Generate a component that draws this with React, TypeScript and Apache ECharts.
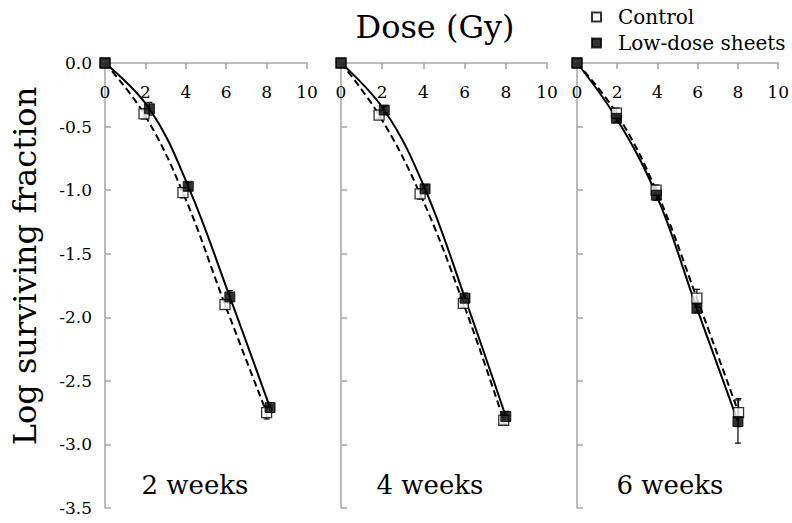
import React, { useEffect, useRef } from 'react';
import * as echarts from 'echarts';

const FONT = 'DejaVu Serif';

const panelLabels = ['2 weeks', '4 weeks', '6 weeks'];
const seriesNames = ['Control', 'Low-dose sheets'];

// 2 weeks
const ctrlDose2w = [0, 1.93, 3.86, 5.94, 8.0];
const ctrlLog2w = [0, -0.4, -1.02, -1.9, -2.75];
const ctrlErr2w = [0, 0.04, 0.04, 0.03, 0.05];
const lowDose2w = [0, 2.2, 4.12, 6.18, 8.17];
const lowLog2w = [0, -0.36, -0.97, -1.84, -2.71];
const lowErr2w = [0, 0.05, 0.03, 0.05, 0.04];

// 4 weeks
const ctrlDose4w = [0, 1.85, 3.84, 5.94, 7.9];
const ctrlLog4w = [0, -0.41, -1.03, -1.89, -2.81];
const ctrlErr4w = [0, 0.03, 0.04, 0.03, 0.03];
const lowDose4w = [0, 2.1, 4.08, 6.02, 8.0];
const lowLog4w = [0, -0.37, -0.99, -1.85, -2.78];
const lowErr4w = [0, 0.03, 0.03, 0.04, 0.04];

// 6 weeks
const ctrlDose6w = [0, 1.96, 3.93, 5.96, 8.03];
const ctrlLog6w = [0, -0.395, -1.0, -1.85, -2.75];
const ctrlErr6w = [0, 0.04, 0.04, 0.07, 0.11];
const lowDose6w = [0, 1.96, 3.95, 5.96, 8.0];
const lowLog6w = [0, -0.435, -1.04, -1.93, -2.82];
const lowErr6w = [0, 0.03, 0.04, 0.03, 0.17];

const panels = [
  { label: panelLabels[0], cd: ctrlDose2w, cv: ctrlLog2w, ce: ctrlErr2w, ld: lowDose2w, lv: lowLog2w, le: lowErr2w },
  { label: panelLabels[1], cd: ctrlDose4w, cv: ctrlLog4w, ce: ctrlErr4w, ld: lowDose4w, lv: lowLog4w, le: lowErr4w },
  { label: panelLabels[2], cd: ctrlDose6w, cv: ctrlLog6w, ce: ctrlErr6w, ld: lowDose6w, lv: lowLog6w, le: lowErr6w },
];

const gridLefts = [105, 341, 577];
const gridWidths = [202, 206, 203];
const labelX = [195, 430, 670];

const AXIS_GRAY = '#a6a6a6';

function errorBarRender(params: any, api: any) {
  const x = api.value(0);
  const y = api.value(1);
  const e = api.value(2);
  if (!e) return null;
  const top = api.coord([x, y + e]);
  const bot = api.coord([x, y - e]);
  const cap = 3;
  const style = { stroke: '#000', lineWidth: 1.2 };
  return {
    type: 'group',
    children: [
      { type: 'line', shape: { x1: top[0], y1: top[1], x2: bot[0], y2: bot[1] }, style },
      { type: 'line', shape: { x1: top[0] - cap, y1: top[1], x2: top[0] + cap, y2: top[1] }, style },
      { type: 'line', shape: { x1: bot[0] - cap, y1: bot[1], x2: bot[0] + cap, y2: bot[1] }, style },
    ],
  };
}

export default function App() {
  const ref = useRef<HTMLDivElement>(null);
  useEffect(() => {
    const chart = echarts.init(ref.current!, null, { renderer: 'svg' });
    const grid: any[] = [];
    const xAxis: any[] = [];
    const yAxis: any[] = [];
    const series: any[] = [];
    panels.forEach((p, i) => {
      grid.push({ left: gridLefts[i], top: 63, width: gridWidths[i], height: 445 });
      xAxis.push({
        gridIndex: i,
        type: 'value',
        position: 'top',
        min: 0,
        max: 10,
        interval: 2,
        axisLine: { show: true, onZero: false, lineStyle: { color: AXIS_GRAY, width: 1.5 } },
        axisTick: { show: true, inside: true, length: 6, lineStyle: { color: AXIS_GRAY, width: 1.5 } },
        axisLabel: { inside: true, margin: 20, fontSize: 17, fontFamily: FONT, color: '#000' },
        splitLine: { show: false },
      });
      yAxis.push({
        gridIndex: i,
        type: 'value',
        min: -3.5,
        max: 0,
        interval: 0.5,
        axisLine: { show: true, onZero: false, lineStyle: { color: AXIS_GRAY, width: 1.5 } },
        axisTick: { show: true, inside: true, length: 6, lineStyle: { color: AXIS_GRAY, width: 1.5 } },
        axisLabel: {
          show: i === 0,
          margin: 13,
          fontSize: 17,
          fontFamily: FONT,
          color: '#000',
          formatter: (v: number) => v.toFixed(1),
        },
        splitLine: { show: false },
      });
      const ctrl = p.cd.map((d, k) => [d, p.cv[k]]);
      const low = p.ld.map((d, k) => [d, p.lv[k]]);
      series.push({
        type: 'line', name: 'Control fit', xAxisIndex: i, yAxisIndex: i, data: ctrl,
        smooth: 0.4, showSymbol: false, symbol: 'none', z: 2,
        lineStyle: { color: '#000', width: 2, type: [7, 4] },
      });
      series.push({
        type: 'line', name: 'Low-dose fit', xAxisIndex: i, yAxisIndex: i, data: low,
        smooth: 0.4, showSymbol: false, symbol: 'none', z: 2,
        lineStyle: { color: '#000', width: 2, type: 'solid' },
      });
      series.push({
        type: 'custom', name: 'Control err', xAxisIndex: i, yAxisIndex: i, z: 3,
        data: p.cd.map((d, k) => [d, p.cv[k], p.ce[k]]),
        renderItem: errorBarRender,
      });
      series.push({
        type: 'custom', name: 'Low err', xAxisIndex: i, yAxisIndex: i, z: 3,
        data: p.ld.map((d, k) => [d, p.lv[k], p.le[k]]),
        renderItem: errorBarRender,
      });
      series.push({
        type: 'scatter', name: seriesNames[0], xAxisIndex: i, yAxisIndex: i, data: ctrl, z: 4,
        symbol: 'rect', symbolSize: 10,
        itemStyle: { color: '#fff', borderColor: '#000', borderWidth: 1.3 },
      });
      series.push({
        type: 'scatter', name: seriesNames[1], xAxisIndex: i, yAxisIndex: i, data: low, z: 5,
        symbol: 'rect', symbolSize: 10,
        itemStyle: { color: '#000', borderColor: '#000', borderWidth: 1 },
      });
    });

    const graphic: any[] = [
      {
        type: 'text', x: 435, y: 27,
        style: { text: 'Dose (Gy)', fontSize: 32, fontFamily: FONT, fill: '#000', textAlign: 'center', textVerticalAlign: 'middle' },
      },
      {
        type: 'text', x: 25, y: 266, rotation: Math.PI / 2,
        style: { text: 'Log surviving fraction', fontSize: 32, fontFamily: FONT, fill: '#000', textAlign: 'center', textVerticalAlign: 'middle' },
      },
      ...panels.map((p, i) => ({
        type: 'text', x: labelX[i], y: 485,
        style: { text: p.label, fontSize: 26, fontFamily: FONT, fill: '#000', textAlign: 'center', textVerticalAlign: 'middle' },
      })),
    ];

    chart.setOption({
      animation: false,
      backgroundColor: '#fff',
      grid,
      xAxis,
      yAxis,
      series,
      graphic,
      legend: {
        data: [
          { name: seriesNames[0], icon: 'rect' },
          { name: seriesNames[1], icon: 'rect' },
        ],
        orient: 'vertical',
        left: 586,
        top: 2,
        itemWidth: 9,
        itemHeight: 9,
        itemGap: 6,
        selectedMode: false,
        textStyle: { fontSize: 20, fontFamily: FONT, color: '#000', lineHeight: 20, padding: [0, 0, 0, 12] },
      },
    });
    return () => chart.dispose();
  }, []);
  return <div ref={ref} style={{ position: 'fixed', left: 0, top: 0, width: 792, height: 523 }} />;
}
